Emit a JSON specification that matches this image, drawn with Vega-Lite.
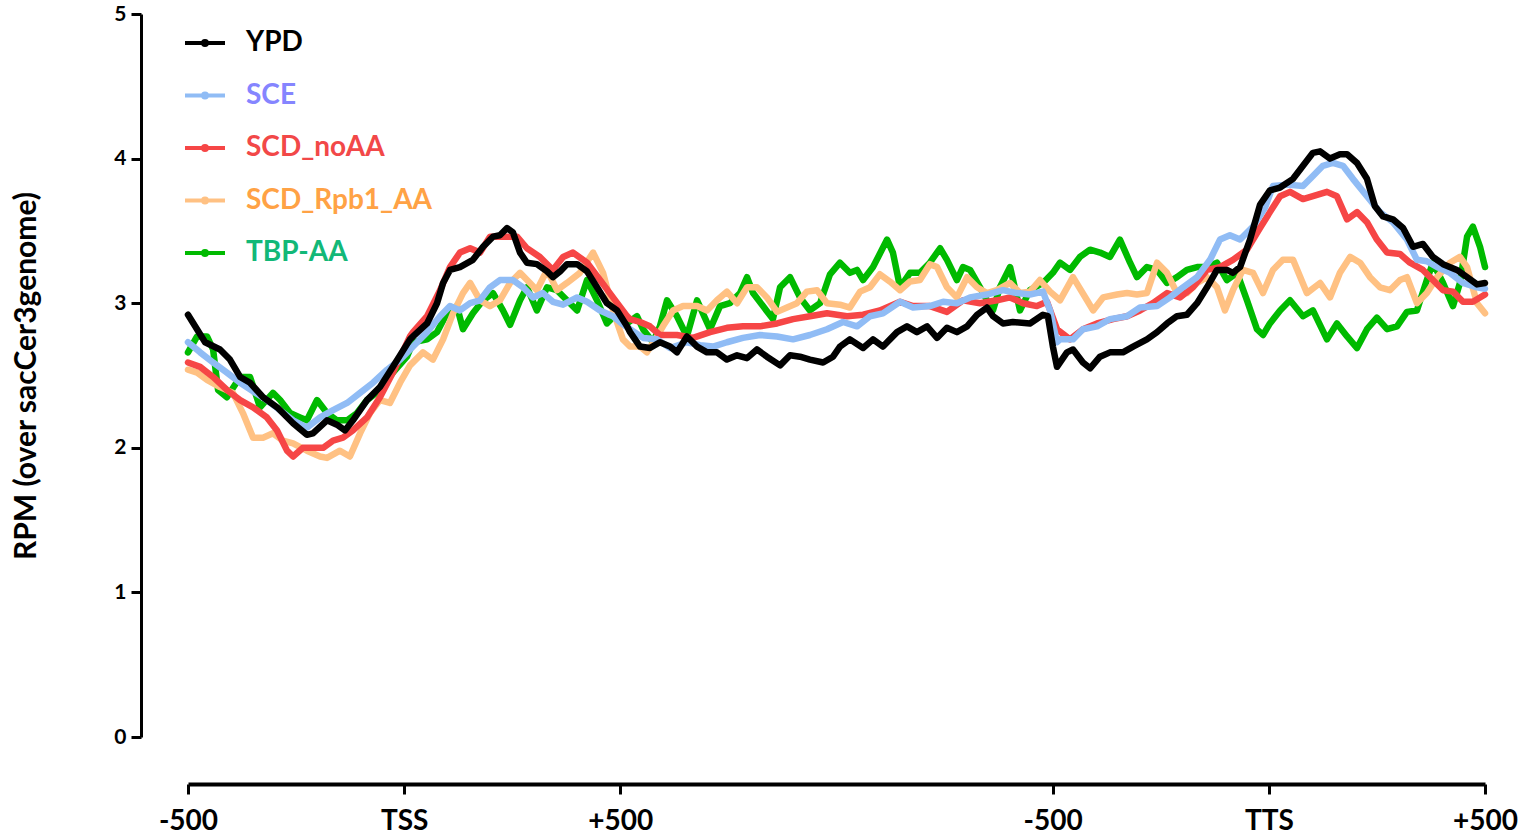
{
"$schema": "https://vega.github.io/schema/vega-lite/v6.json",
"width": 1297, "height": 723,
"autosize": {"type": "none"},
"padding": {"left": 188, "top": 14, "right": 39, "bottom": 100},
"background": "white",
"config": {"view": {"stroke": null}, "font": "Lato"},
"data": {"values": [
{"s":"YPD","x":0,"y":2.92},{"s":"YPD","x":0.079,"y":2.73},{"s":"YPD","x":0.148,"y":2.68},{"s":"YPD","x":0.194,"y":2.61},{"s":"YPD","x":0.241,"y":2.49},{"s":"YPD","x":0.287,"y":2.45},{"s":"YPD","x":0.347,"y":2.35},{"s":"YPD","x":0.412,"y":2.28},{"s":"YPD","x":0.486,"y":2.17},{"s":"YPD","x":0.55,"y":2.09},{"s":"YPD","x":0.578,"y":2.10},{"s":"YPD","x":0.643,"y":2.19},{"s":"YPD","x":0.689,"y":2.16},{"s":"YPD","x":0.726,"y":2.12},{"s":"YPD","x":0.763,"y":2.19},{"s":"YPD","x":0.828,"y":2.33},{"s":"YPD","x":0.888,"y":2.42},{"s":"YPD","x":0.948,"y":2.56},{"s":"YPD","x":1.027,"y":2.75},{"s":"YPD","x":1.041,"y":2.77},{"s":"YPD","x":1.106,"y":2.86},{"s":"YPD","x":1.152,"y":3.00},{"s":"YPD","x":1.18,"y":3.14},{"s":"YPD","x":1.212,"y":3.23},{"s":"YPD","x":1.258,"y":3.25},{"s":"YPD","x":1.318,"y":3.30},{"s":"YPD","x":1.365,"y":3.39},{"s":"YPD","x":1.411,"y":3.46},{"s":"YPD","x":1.443,"y":3.47},{"s":"YPD","x":1.476,"y":3.52},{"s":"YPD","x":1.503,"y":3.49},{"s":"YPD","x":1.536,"y":3.35},{"s":"YPD","x":1.568,"y":3.28},{"s":"YPD","x":1.614,"y":3.27},{"s":"YPD","x":1.661,"y":3.22},{"s":"YPD","x":1.688,"y":3.18},{"s":"YPD","x":1.721,"y":3.22},{"s":"YPD","x":1.753,"y":3.27},{"s":"YPD","x":1.8,"y":3.27},{"s":"YPD","x":1.846,"y":3.22},{"s":"YPD","x":1.892,"y":3.11},{"s":"YPD","x":1.938,"y":3.00},{"s":"YPD","x":1.985,"y":2.95},{"s":"YPD","x":2.031,"y":2.84},{"s":"YPD","x":2.045,"y":2.80},{"s":"YPD","x":2.091,"y":2.70},{"s":"YPD","x":2.137,"y":2.69},{"s":"YPD","x":2.183,"y":2.73},{"s":"YPD","x":2.23,"y":2.70},{"s":"YPD","x":2.262,"y":2.66},{"s":"YPD","x":2.308,"y":2.77},{"s":"YPD","x":2.355,"y":2.70},{"s":"YPD","x":2.401,"y":2.66},{"s":"YPD","x":2.447,"y":2.66},{"s":"YPD","x":2.493,"y":2.61},{"s":"YPD","x":2.54,"y":2.64},{"s":"YPD","x":2.586,"y":2.62},{"s":"YPD","x":2.632,"y":2.68},{"s":"YPD","x":2.678,"y":2.63},{"s":"YPD","x":2.739,"y":2.57},{"s":"YPD","x":2.785,"y":2.64},{"s":"YPD","x":2.831,"y":2.63},{"s":"YPD","x":2.877,"y":2.61},{"s":"YPD","x":2.938,"y":2.59},{"s":"YPD","x":2.984,"y":2.63},{"s":"YPD","x":3.016,"y":2.70},{"s":"YPD","x":3.062,"y":2.75},{"s":"YPD","x":3.123,"y":2.69},{"s":"YPD","x":3.169,"y":2.75},{"s":"YPD","x":3.215,"y":2.70},{"s":"YPD","x":3.28,"y":2.80},{"s":"YPD","x":3.326,"y":2.84},{"s":"YPD","x":3.372,"y":2.80},{"s":"YPD","x":3.419,"y":2.84},{"s":"YPD","x":3.465,"y":2.76},{"s":"YPD","x":3.511,"y":2.83},{"s":"YPD","x":3.557,"y":2.80},{"s":"YPD","x":3.604,"y":2.84},{"s":"YPD","x":3.65,"y":2.92},{"s":"YPD","x":3.696,"y":2.97},{"s":"YPD","x":3.724,"y":2.91},{"s":"YPD","x":3.77,"y":2.86},{"s":"YPD","x":3.816,"y":2.87},{"s":"YPD","x":3.895,"y":2.86},{"s":"YPD","x":3.955,"y":2.92},{"s":"YPD","x":3.978,"y":2.91},{"s":"YPD","x":4.001,"y":2.70},{"s":"YPD","x":4.02,"y":2.56},{"s":"YPD","x":4.066,"y":2.66},{"s":"YPD","x":4.094,"y":2.68},{"s":"YPD","x":4.14,"y":2.59},{"s":"YPD","x":4.173,"y":2.55},{"s":"YPD","x":4.219,"y":2.63},{"s":"YPD","x":4.265,"y":2.66},{"s":"YPD","x":4.325,"y":2.66},{"s":"YPD","x":4.372,"y":2.70},{"s":"YPD","x":4.436,"y":2.75},{"s":"YPD","x":4.483,"y":2.80},{"s":"YPD","x":4.529,"y":2.86},{"s":"YPD","x":4.575,"y":2.91},{"s":"YPD","x":4.621,"y":2.92},{"s":"YPD","x":4.668,"y":3.00},{"s":"YPD","x":4.714,"y":3.11},{"s":"YPD","x":4.76,"y":3.23},{"s":"YPD","x":4.806,"y":3.23},{"s":"YPD","x":4.834,"y":3.21},{"s":"YPD","x":4.867,"y":3.25},{"s":"YPD","x":4.913,"y":3.44},{"s":"YPD","x":4.959,"y":3.68},{"s":"YPD","x":5.005,"y":3.78},{"s":"YPD","x":5.052,"y":3.80},{"s":"YPD","x":5.112,"y":3.86},{"s":"YPD","x":5.158,"y":3.95},{"s":"YPD","x":5.204,"y":4.04},{"s":"YPD","x":5.237,"y":4.05},{"s":"YPD","x":5.283,"y":4.00},{"s":"YPD","x":5.329,"y":4.03},{"s":"YPD","x":5.362,"y":4.03},{"s":"YPD","x":5.408,"y":3.97},{"s":"YPD","x":5.454,"y":3.86},{"s":"YPD","x":5.491,"y":3.67},{"s":"YPD","x":5.528,"y":3.60},{"s":"YPD","x":5.574,"y":3.58},{"s":"YPD","x":5.621,"y":3.52},{"s":"YPD","x":5.667,"y":3.39},{"s":"YPD","x":5.713,"y":3.41},{"s":"YPD","x":5.759,"y":3.32},{"s":"YPD","x":5.806,"y":3.27},{"s":"YPD","x":5.87,"y":3.23},{"s":"YPD","x":5.917,"y":3.18},{"s":"YPD","x":5.963,"y":3.13},{"s":"YPD","x":6,"y":3.14},
{"s":"SCD_noAA","x":0,"y":2.59},{"s":"SCD_noAA","x":0.056,"y":2.56},{"s":"SCD_noAA","x":0.116,"y":2.49},{"s":"SCD_noAA","x":0.18,"y":2.40},{"s":"SCD_noAA","x":0.241,"y":2.33},{"s":"SCD_noAA","x":0.301,"y":2.28},{"s":"SCD_noAA","x":0.365,"y":2.21},{"s":"SCD_noAA","x":0.412,"y":2.12},{"s":"SCD_noAA","x":0.458,"y":1.98},{"s":"SCD_noAA","x":0.486,"y":1.94},{"s":"SCD_noAA","x":0.532,"y":2.00},{"s":"SCD_noAA","x":0.578,"y":2.00},{"s":"SCD_noAA","x":0.625,"y":2.00},{"s":"SCD_noAA","x":0.671,"y":2.05},{"s":"SCD_noAA","x":0.717,"y":2.07},{"s":"SCD_noAA","x":0.763,"y":2.12},{"s":"SCD_noAA","x":0.828,"y":2.21},{"s":"SCD_noAA","x":0.888,"y":2.35},{"s":"SCD_noAA","x":0.948,"y":2.52},{"s":"SCD_noAA","x":1.027,"y":2.77},{"s":"SCD_noAA","x":1.041,"y":2.80},{"s":"SCD_noAA","x":1.106,"y":2.91},{"s":"SCD_noAA","x":1.166,"y":3.09},{"s":"SCD_noAA","x":1.212,"y":3.25},{"s":"SCD_noAA","x":1.258,"y":3.35},{"s":"SCD_noAA","x":1.305,"y":3.38},{"s":"SCD_noAA","x":1.351,"y":3.35},{"s":"SCD_noAA","x":1.397,"y":3.46},{"s":"SCD_noAA","x":1.457,"y":3.46},{"s":"SCD_noAA","x":1.522,"y":3.46},{"s":"SCD_noAA","x":1.568,"y":3.38},{"s":"SCD_noAA","x":1.628,"y":3.32},{"s":"SCD_noAA","x":1.688,"y":3.23},{"s":"SCD_noAA","x":1.735,"y":3.32},{"s":"SCD_noAA","x":1.781,"y":3.35},{"s":"SCD_noAA","x":1.846,"y":3.28},{"s":"SCD_noAA","x":1.906,"y":3.16},{"s":"SCD_noAA","x":1.966,"y":3.04},{"s":"SCD_noAA","x":2.031,"y":2.91},{"s":"SCD_noAA","x":2.045,"y":2.89},{"s":"SCD_noAA","x":2.091,"y":2.87},{"s":"SCD_noAA","x":2.137,"y":2.84},{"s":"SCD_noAA","x":2.183,"y":2.78},{"s":"SCD_noAA","x":2.262,"y":2.78},{"s":"SCD_noAA","x":2.336,"y":2.76},{"s":"SCD_noAA","x":2.415,"y":2.80},{"s":"SCD_noAA","x":2.493,"y":2.83},{"s":"SCD_noAA","x":2.567,"y":2.84},{"s":"SCD_noAA","x":2.646,"y":2.84},{"s":"SCD_noAA","x":2.725,"y":2.86},{"s":"SCD_noAA","x":2.799,"y":2.89},{"s":"SCD_noAA","x":2.877,"y":2.91},{"s":"SCD_noAA","x":2.956,"y":2.93},{"s":"SCD_noAA","x":3.049,"y":2.91},{"s":"SCD_noAA","x":3.123,"y":2.92},{"s":"SCD_noAA","x":3.201,"y":2.95},{"s":"SCD_noAA","x":3.294,"y":3.01},{"s":"SCD_noAA","x":3.354,"y":2.98},{"s":"SCD_noAA","x":3.432,"y":2.98},{"s":"SCD_noAA","x":3.511,"y":2.94},{"s":"SCD_noAA","x":3.585,"y":3.02},{"s":"SCD_noAA","x":3.664,"y":3.00},{"s":"SCD_noAA","x":3.742,"y":3.02},{"s":"SCD_noAA","x":3.803,"y":3.04},{"s":"SCD_noAA","x":3.863,"y":3.00},{"s":"SCD_noAA","x":3.927,"y":2.98},{"s":"SCD_noAA","x":3.974,"y":3.01},{"s":"SCD_noAA","x":4.02,"y":2.82},{"s":"SCD_noAA","x":4.08,"y":2.75},{"s":"SCD_noAA","x":4.14,"y":2.82},{"s":"SCD_noAA","x":4.205,"y":2.86},{"s":"SCD_noAA","x":4.279,"y":2.89},{"s":"SCD_noAA","x":4.344,"y":2.91},{"s":"SCD_noAA","x":4.404,"y":2.95},{"s":"SCD_noAA","x":4.464,"y":3.00},{"s":"SCD_noAA","x":4.529,"y":3.07},{"s":"SCD_noAA","x":4.589,"y":3.04},{"s":"SCD_noAA","x":4.649,"y":3.11},{"s":"SCD_noAA","x":4.714,"y":3.23},{"s":"SCD_noAA","x":4.774,"y":3.25},{"s":"SCD_noAA","x":4.834,"y":3.30},{"s":"SCD_noAA","x":4.899,"y":3.37},{"s":"SCD_noAA","x":4.959,"y":3.52},{"s":"SCD_noAA","x":5.005,"y":3.63},{"s":"SCD_noAA","x":5.052,"y":3.74},{"s":"SCD_noAA","x":5.098,"y":3.77},{"s":"SCD_noAA","x":5.158,"y":3.72},{"s":"SCD_noAA","x":5.204,"y":3.74},{"s":"SCD_noAA","x":5.269,"y":3.77},{"s":"SCD_noAA","x":5.315,"y":3.74},{"s":"SCD_noAA","x":5.362,"y":3.58},{"s":"SCD_noAA","x":5.408,"y":3.63},{"s":"SCD_noAA","x":5.454,"y":3.56},{"s":"SCD_noAA","x":5.5,"y":3.44},{"s":"SCD_noAA","x":5.547,"y":3.35},{"s":"SCD_noAA","x":5.607,"y":3.34},{"s":"SCD_noAA","x":5.653,"y":3.28},{"s":"SCD_noAA","x":5.713,"y":3.23},{"s":"SCD_noAA","x":5.759,"y":3.16},{"s":"SCD_noAA","x":5.806,"y":3.09},{"s":"SCD_noAA","x":5.852,"y":3.08},{"s":"SCD_noAA","x":5.898,"y":3.01},{"s":"SCD_noAA","x":5.944,"y":3.01},{"s":"SCD_noAA","x":6,"y":3.06},
{"s":"SCE","x":0,"y":2.73},{"s":"SCE","x":0.056,"y":2.66},{"s":"SCE","x":0.116,"y":2.59},{"s":"SCE","x":0.18,"y":2.52},{"s":"SCE","x":0.241,"y":2.45},{"s":"SCE","x":0.301,"y":2.39},{"s":"SCE","x":0.365,"y":2.33},{"s":"SCE","x":0.426,"y":2.26},{"s":"SCE","x":0.486,"y":2.19},{"s":"SCE","x":0.55,"y":2.14},{"s":"SCE","x":0.611,"y":2.21},{"s":"SCE","x":0.671,"y":2.26},{"s":"SCE","x":0.736,"y":2.31},{"s":"SCE","x":0.796,"y":2.38},{"s":"SCE","x":0.856,"y":2.45},{"s":"SCE","x":0.921,"y":2.54},{"s":"SCE","x":0.981,"y":2.61},{"s":"SCE","x":1.041,"y":2.70},{"s":"SCE","x":1.106,"y":2.80},{"s":"SCE","x":1.166,"y":2.91},{"s":"SCE","x":1.212,"y":2.98},{"s":"SCE","x":1.258,"y":2.95},{"s":"SCE","x":1.305,"y":3.00},{"s":"SCE","x":1.351,"y":3.02},{"s":"SCE","x":1.397,"y":3.11},{"s":"SCE","x":1.443,"y":3.16},{"s":"SCE","x":1.503,"y":3.16},{"s":"SCE","x":1.55,"y":3.11},{"s":"SCE","x":1.596,"y":3.04},{"s":"SCE","x":1.642,"y":3.07},{"s":"SCE","x":1.688,"y":3.01},{"s":"SCE","x":1.735,"y":2.99},{"s":"SCE","x":1.8,"y":3.04},{"s":"SCE","x":1.846,"y":3.01},{"s":"SCE","x":1.906,"y":2.95},{"s":"SCE","x":1.966,"y":2.91},{"s":"SCE","x":1.998,"y":2.87},{"s":"SCE","x":2.045,"y":2.82},{"s":"SCE","x":2.105,"y":2.76},{"s":"SCE","x":2.17,"y":2.75},{"s":"SCE","x":2.23,"y":2.69},{"s":"SCE","x":2.308,"y":2.73},{"s":"SCE","x":2.369,"y":2.71},{"s":"SCE","x":2.429,"y":2.70},{"s":"SCE","x":2.493,"y":2.73},{"s":"SCE","x":2.567,"y":2.76},{"s":"SCE","x":2.646,"y":2.78},{"s":"SCE","x":2.725,"y":2.77},{"s":"SCE","x":2.799,"y":2.75},{"s":"SCE","x":2.877,"y":2.78},{"s":"SCE","x":2.956,"y":2.82},{"s":"SCE","x":3.03,"y":2.87},{"s":"SCE","x":3.095,"y":2.84},{"s":"SCE","x":3.155,"y":2.91},{"s":"SCE","x":3.215,"y":2.93},{"s":"SCE","x":3.294,"y":3.01},{"s":"SCE","x":3.354,"y":2.97},{"s":"SCE","x":3.432,"y":2.98},{"s":"SCE","x":3.493,"y":3.01},{"s":"SCE","x":3.557,"y":3.00},{"s":"SCE","x":3.618,"y":3.04},{"s":"SCE","x":3.696,"y":3.06},{"s":"SCE","x":3.77,"y":3.09},{"s":"SCE","x":3.835,"y":3.07},{"s":"SCE","x":3.895,"y":3.06},{"s":"SCE","x":3.955,"y":3.08},{"s":"SCE","x":3.988,"y":2.95},{"s":"SCE","x":4.02,"y":2.73},{"s":"SCE","x":4.034,"y":2.75},{"s":"SCE","x":4.094,"y":2.75},{"s":"SCE","x":4.14,"y":2.82},{"s":"SCE","x":4.205,"y":2.84},{"s":"SCE","x":4.265,"y":2.89},{"s":"SCE","x":4.344,"y":2.91},{"s":"SCE","x":4.404,"y":2.97},{"s":"SCE","x":4.483,"y":2.98},{"s":"SCE","x":4.543,"y":3.04},{"s":"SCE","x":4.603,"y":3.11},{"s":"SCE","x":4.668,"y":3.18},{"s":"SCE","x":4.728,"y":3.30},{"s":"SCE","x":4.774,"y":3.44},{"s":"SCE","x":4.82,"y":3.47},{"s":"SCE","x":4.867,"y":3.44},{"s":"SCE","x":4.927,"y":3.53},{"s":"SCE","x":4.982,"y":3.66},{"s":"SCE","x":5.019,"y":3.81},{"s":"SCE","x":5.084,"y":3.82},{"s":"SCE","x":5.158,"y":3.81},{"s":"SCE","x":5.204,"y":3.88},{"s":"SCE","x":5.25,"y":3.95},{"s":"SCE","x":5.296,"y":3.97},{"s":"SCE","x":5.343,"y":3.95},{"s":"SCE","x":5.389,"y":3.86},{"s":"SCE","x":5.454,"y":3.74},{"s":"SCE","x":5.514,"y":3.63},{"s":"SCE","x":5.574,"y":3.56},{"s":"SCE","x":5.639,"y":3.44},{"s":"SCE","x":5.685,"y":3.30},{"s":"SCE","x":5.731,"y":3.29},{"s":"SCE","x":5.778,"y":3.25},{"s":"SCE","x":5.838,"y":3.21},{"s":"SCE","x":5.898,"y":3.14},{"s":"SCE","x":5.963,"y":3.11},{"s":"SCE","x":6,"y":3.10},
{"s":"SCD_Rpb1_AA","x":0,"y":2.54},{"s":"SCD_Rpb1_AA","x":0.042,"y":2.52},{"s":"SCD_Rpb1_AA","x":0.088,"y":2.47},{"s":"SCD_Rpb1_AA","x":0.148,"y":2.42},{"s":"SCD_Rpb1_AA","x":0.208,"y":2.38},{"s":"SCD_Rpb1_AA","x":0.254,"y":2.24},{"s":"SCD_Rpb1_AA","x":0.301,"y":2.07},{"s":"SCD_Rpb1_AA","x":0.347,"y":2.07},{"s":"SCD_Rpb1_AA","x":0.393,"y":2.10},{"s":"SCD_Rpb1_AA","x":0.439,"y":2.05},{"s":"SCD_Rpb1_AA","x":0.486,"y":2.03},{"s":"SCD_Rpb1_AA","x":0.55,"y":1.98},{"s":"SCD_Rpb1_AA","x":0.611,"y":1.94},{"s":"SCD_Rpb1_AA","x":0.643,"y":1.93},{"s":"SCD_Rpb1_AA","x":0.703,"y":1.98},{"s":"SCD_Rpb1_AA","x":0.749,"y":1.94},{"s":"SCD_Rpb1_AA","x":0.796,"y":2.10},{"s":"SCD_Rpb1_AA","x":0.842,"y":2.24},{"s":"SCD_Rpb1_AA","x":0.888,"y":2.33},{"s":"SCD_Rpb1_AA","x":0.934,"y":2.31},{"s":"SCD_Rpb1_AA","x":0.981,"y":2.45},{"s":"SCD_Rpb1_AA","x":1.027,"y":2.57},{"s":"SCD_Rpb1_AA","x":1.087,"y":2.66},{"s":"SCD_Rpb1_AA","x":1.133,"y":2.61},{"s":"SCD_Rpb1_AA","x":1.18,"y":2.75},{"s":"SCD_Rpb1_AA","x":1.226,"y":2.93},{"s":"SCD_Rpb1_AA","x":1.272,"y":3.07},{"s":"SCD_Rpb1_AA","x":1.305,"y":3.14},{"s":"SCD_Rpb1_AA","x":1.351,"y":3.02},{"s":"SCD_Rpb1_AA","x":1.397,"y":2.98},{"s":"SCD_Rpb1_AA","x":1.443,"y":3.02},{"s":"SCD_Rpb1_AA","x":1.49,"y":3.14},{"s":"SCD_Rpb1_AA","x":1.536,"y":3.21},{"s":"SCD_Rpb1_AA","x":1.582,"y":3.14},{"s":"SCD_Rpb1_AA","x":1.614,"y":3.09},{"s":"SCD_Rpb1_AA","x":1.661,"y":3.23},{"s":"SCD_Rpb1_AA","x":1.707,"y":3.09},{"s":"SCD_Rpb1_AA","x":1.753,"y":3.14},{"s":"SCD_Rpb1_AA","x":1.813,"y":3.21},{"s":"SCD_Rpb1_AA","x":1.874,"y":3.35},{"s":"SCD_Rpb1_AA","x":1.92,"y":3.21},{"s":"SCD_Rpb1_AA","x":1.966,"y":2.95},{"s":"SCD_Rpb1_AA","x":2.012,"y":2.75},{"s":"SCD_Rpb1_AA","x":2.045,"y":2.70},{"s":"SCD_Rpb1_AA","x":2.091,"y":2.70},{"s":"SCD_Rpb1_AA","x":2.123,"y":2.66},{"s":"SCD_Rpb1_AA","x":2.17,"y":2.77},{"s":"SCD_Rpb1_AA","x":2.197,"y":2.84},{"s":"SCD_Rpb1_AA","x":2.244,"y":2.95},{"s":"SCD_Rpb1_AA","x":2.29,"y":2.98},{"s":"SCD_Rpb1_AA","x":2.355,"y":2.98},{"s":"SCD_Rpb1_AA","x":2.401,"y":2.95},{"s":"SCD_Rpb1_AA","x":2.447,"y":3.02},{"s":"SCD_Rpb1_AA","x":2.493,"y":3.08},{"s":"SCD_Rpb1_AA","x":2.54,"y":3.00},{"s":"SCD_Rpb1_AA","x":2.586,"y":3.11},{"s":"SCD_Rpb1_AA","x":2.632,"y":3.11},{"s":"SCD_Rpb1_AA","x":2.678,"y":3.04},{"s":"SCD_Rpb1_AA","x":2.725,"y":2.94},{"s":"SCD_Rpb1_AA","x":2.771,"y":2.97},{"s":"SCD_Rpb1_AA","x":2.817,"y":3.00},{"s":"SCD_Rpb1_AA","x":2.863,"y":3.08},{"s":"SCD_Rpb1_AA","x":2.91,"y":3.09},{"s":"SCD_Rpb1_AA","x":2.956,"y":3.00},{"s":"SCD_Rpb1_AA","x":3.016,"y":2.99},{"s":"SCD_Rpb1_AA","x":3.062,"y":2.97},{"s":"SCD_Rpb1_AA","x":3.109,"y":3.08},{"s":"SCD_Rpb1_AA","x":3.155,"y":3.11},{"s":"SCD_Rpb1_AA","x":3.201,"y":3.20},{"s":"SCD_Rpb1_AA","x":3.247,"y":3.15},{"s":"SCD_Rpb1_AA","x":3.294,"y":3.09},{"s":"SCD_Rpb1_AA","x":3.34,"y":3.15},{"s":"SCD_Rpb1_AA","x":3.386,"y":3.16},{"s":"SCD_Rpb1_AA","x":3.432,"y":3.27},{"s":"SCD_Rpb1_AA","x":3.465,"y":3.25},{"s":"SCD_Rpb1_AA","x":3.511,"y":3.11},{"s":"SCD_Rpb1_AA","x":3.557,"y":3.04},{"s":"SCD_Rpb1_AA","x":3.604,"y":3.18},{"s":"SCD_Rpb1_AA","x":3.65,"y":3.11},{"s":"SCD_Rpb1_AA","x":3.696,"y":3.07},{"s":"SCD_Rpb1_AA","x":3.742,"y":3.09},{"s":"SCD_Rpb1_AA","x":3.803,"y":3.14},{"s":"SCD_Rpb1_AA","x":3.849,"y":3.07},{"s":"SCD_Rpb1_AA","x":3.895,"y":3.08},{"s":"SCD_Rpb1_AA","x":3.941,"y":3.16},{"s":"SCD_Rpb1_AA","x":3.988,"y":3.08},{"s":"SCD_Rpb1_AA","x":4.034,"y":3.02},{"s":"SCD_Rpb1_AA","x":4.094,"y":3.18},{"s":"SCD_Rpb1_AA","x":4.159,"y":3.02},{"s":"SCD_Rpb1_AA","x":4.187,"y":2.95},{"s":"SCD_Rpb1_AA","x":4.233,"y":3.04},{"s":"SCD_Rpb1_AA","x":4.298,"y":3.06},{"s":"SCD_Rpb1_AA","x":4.344,"y":3.07},{"s":"SCD_Rpb1_AA","x":4.39,"y":3.06},{"s":"SCD_Rpb1_AA","x":4.436,"y":3.07},{"s":"SCD_Rpb1_AA","x":4.483,"y":3.28},{"s":"SCD_Rpb1_AA","x":4.529,"y":3.21},{"s":"SCD_Rpb1_AA","x":4.575,"y":3.07},{"s":"SCD_Rpb1_AA","x":4.621,"y":3.07},{"s":"SCD_Rpb1_AA","x":4.668,"y":3.14},{"s":"SCD_Rpb1_AA","x":4.714,"y":3.18},{"s":"SCD_Rpb1_AA","x":4.76,"y":3.11},{"s":"SCD_Rpb1_AA","x":4.797,"y":2.95},{"s":"SCD_Rpb1_AA","x":4.834,"y":3.09},{"s":"SCD_Rpb1_AA","x":4.88,"y":3.23},{"s":"SCD_Rpb1_AA","x":4.927,"y":3.21},{"s":"SCD_Rpb1_AA","x":4.973,"y":3.07},{"s":"SCD_Rpb1_AA","x":5.019,"y":3.23},{"s":"SCD_Rpb1_AA","x":5.065,"y":3.30},{"s":"SCD_Rpb1_AA","x":5.112,"y":3.30},{"s":"SCD_Rpb1_AA","x":5.176,"y":3.07},{"s":"SCD_Rpb1_AA","x":5.237,"y":3.14},{"s":"SCD_Rpb1_AA","x":5.283,"y":3.04},{"s":"SCD_Rpb1_AA","x":5.329,"y":3.21},{"s":"SCD_Rpb1_AA","x":5.376,"y":3.32},{"s":"SCD_Rpb1_AA","x":5.422,"y":3.28},{"s":"SCD_Rpb1_AA","x":5.468,"y":3.18},{"s":"SCD_Rpb1_AA","x":5.514,"y":3.11},{"s":"SCD_Rpb1_AA","x":5.56,"y":3.09},{"s":"SCD_Rpb1_AA","x":5.607,"y":3.16},{"s":"SCD_Rpb1_AA","x":5.639,"y":3.18},{"s":"SCD_Rpb1_AA","x":5.685,"y":3.00},{"s":"SCD_Rpb1_AA","x":5.731,"y":3.07},{"s":"SCD_Rpb1_AA","x":5.778,"y":3.18},{"s":"SCD_Rpb1_AA","x":5.838,"y":3.28},{"s":"SCD_Rpb1_AA","x":5.884,"y":3.32},{"s":"SCD_Rpb1_AA","x":5.917,"y":3.25},{"s":"SCD_Rpb1_AA","x":5.963,"y":3.00},{"s":"SCD_Rpb1_AA","x":6,"y":2.93},
{"s":"TBP-AA","x":0,"y":2.66},{"s":"TBP-AA","x":0.042,"y":2.77},{"s":"TBP-AA","x":0.088,"y":2.77},{"s":"TBP-AA","x":0.116,"y":2.68},{"s":"TBP-AA","x":0.139,"y":2.40},{"s":"TBP-AA","x":0.18,"y":2.35},{"s":"TBP-AA","x":0.241,"y":2.49},{"s":"TBP-AA","x":0.287,"y":2.49},{"s":"TBP-AA","x":0.333,"y":2.28},{"s":"TBP-AA","x":0.393,"y":2.38},{"s":"TBP-AA","x":0.426,"y":2.33},{"s":"TBP-AA","x":0.472,"y":2.24},{"s":"TBP-AA","x":0.518,"y":2.21},{"s":"TBP-AA","x":0.55,"y":2.19},{"s":"TBP-AA","x":0.597,"y":2.33},{"s":"TBP-AA","x":0.643,"y":2.24},{"s":"TBP-AA","x":0.689,"y":2.19},{"s":"TBP-AA","x":0.736,"y":2.19},{"s":"TBP-AA","x":0.782,"y":2.24},{"s":"TBP-AA","x":0.828,"y":2.33},{"s":"TBP-AA","x":0.888,"y":2.40},{"s":"TBP-AA","x":0.948,"y":2.52},{"s":"TBP-AA","x":1.013,"y":2.63},{"s":"TBP-AA","x":1.041,"y":2.73},{"s":"TBP-AA","x":1.106,"y":2.75},{"s":"TBP-AA","x":1.152,"y":2.80},{"s":"TBP-AA","x":1.198,"y":2.93},{"s":"TBP-AA","x":1.244,"y":2.98},{"s":"TBP-AA","x":1.272,"y":2.82},{"s":"TBP-AA","x":1.318,"y":2.93},{"s":"TBP-AA","x":1.365,"y":3.02},{"s":"TBP-AA","x":1.411,"y":3.07},{"s":"TBP-AA","x":1.457,"y":2.95},{"s":"TBP-AA","x":1.49,"y":2.85},{"s":"TBP-AA","x":1.536,"y":3.02},{"s":"TBP-AA","x":1.568,"y":3.11},{"s":"TBP-AA","x":1.614,"y":2.95},{"s":"TBP-AA","x":1.661,"y":3.11},{"s":"TBP-AA","x":1.707,"y":3.09},{"s":"TBP-AA","x":1.753,"y":3.02},{"s":"TBP-AA","x":1.8,"y":2.95},{"s":"TBP-AA","x":1.846,"y":3.16},{"s":"TBP-AA","x":1.892,"y":3.02},{"s":"TBP-AA","x":1.938,"y":2.86},{"s":"TBP-AA","x":1.985,"y":2.93},{"s":"TBP-AA","x":2.031,"y":2.86},{"s":"TBP-AA","x":2.077,"y":2.91},{"s":"TBP-AA","x":2.105,"y":2.82},{"s":"TBP-AA","x":2.151,"y":2.73},{"s":"TBP-AA","x":2.183,"y":2.84},{"s":"TBP-AA","x":2.216,"y":3.02},{"s":"TBP-AA","x":2.262,"y":2.91},{"s":"TBP-AA","x":2.308,"y":2.77},{"s":"TBP-AA","x":2.355,"y":3.02},{"s":"TBP-AA","x":2.382,"y":2.93},{"s":"TBP-AA","x":2.415,"y":2.82},{"s":"TBP-AA","x":2.461,"y":2.98},{"s":"TBP-AA","x":2.507,"y":3.00},{"s":"TBP-AA","x":2.554,"y":3.07},{"s":"TBP-AA","x":2.586,"y":3.18},{"s":"TBP-AA","x":2.614,"y":3.07},{"s":"TBP-AA","x":2.66,"y":2.98},{"s":"TBP-AA","x":2.706,"y":2.89},{"s":"TBP-AA","x":2.739,"y":3.11},{"s":"TBP-AA","x":2.785,"y":3.18},{"s":"TBP-AA","x":2.831,"y":3.04},{"s":"TBP-AA","x":2.877,"y":2.95},{"s":"TBP-AA","x":2.924,"y":3.00},{"s":"TBP-AA","x":2.97,"y":3.20},{"s":"TBP-AA","x":3.016,"y":3.28},{"s":"TBP-AA","x":3.062,"y":3.21},{"s":"TBP-AA","x":3.095,"y":3.23},{"s":"TBP-AA","x":3.123,"y":3.16},{"s":"TBP-AA","x":3.169,"y":3.25},{"s":"TBP-AA","x":3.234,"y":3.44},{"s":"TBP-AA","x":3.261,"y":3.35},{"s":"TBP-AA","x":3.294,"y":3.11},{"s":"TBP-AA","x":3.34,"y":3.21},{"s":"TBP-AA","x":3.386,"y":3.21},{"s":"TBP-AA","x":3.432,"y":3.28},{"s":"TBP-AA","x":3.479,"y":3.38},{"s":"TBP-AA","x":3.511,"y":3.30},{"s":"TBP-AA","x":3.557,"y":3.16},{"s":"TBP-AA","x":3.585,"y":3.25},{"s":"TBP-AA","x":3.618,"y":3.23},{"s":"TBP-AA","x":3.664,"y":3.11},{"s":"TBP-AA","x":3.696,"y":3.02},{"s":"TBP-AA","x":3.724,"y":2.95},{"s":"TBP-AA","x":3.756,"y":3.11},{"s":"TBP-AA","x":3.803,"y":3.25},{"s":"TBP-AA","x":3.849,"y":2.95},{"s":"TBP-AA","x":3.895,"y":3.09},{"s":"TBP-AA","x":3.955,"y":3.14},{"s":"TBP-AA","x":4.001,"y":3.21},{"s":"TBP-AA","x":4.034,"y":3.28},{"s":"TBP-AA","x":4.08,"y":3.23},{"s":"TBP-AA","x":4.126,"y":3.32},{"s":"TBP-AA","x":4.173,"y":3.37},{"s":"TBP-AA","x":4.219,"y":3.35},{"s":"TBP-AA","x":4.265,"y":3.32},{"s":"TBP-AA","x":4.311,"y":3.44},{"s":"TBP-AA","x":4.358,"y":3.28},{"s":"TBP-AA","x":4.39,"y":3.18},{"s":"TBP-AA","x":4.436,"y":3.25},{"s":"TBP-AA","x":4.483,"y":3.23},{"s":"TBP-AA","x":4.529,"y":3.14},{"s":"TBP-AA","x":4.575,"y":3.18},{"s":"TBP-AA","x":4.621,"y":3.23},{"s":"TBP-AA","x":4.668,"y":3.25},{"s":"TBP-AA","x":4.714,"y":3.25},{"s":"TBP-AA","x":4.76,"y":3.28},{"s":"TBP-AA","x":4.806,"y":3.16},{"s":"TBP-AA","x":4.853,"y":3.21},{"s":"TBP-AA","x":4.899,"y":3.02},{"s":"TBP-AA","x":4.945,"y":2.82},{"s":"TBP-AA","x":4.973,"y":2.78},{"s":"TBP-AA","x":5.005,"y":2.86},{"s":"TBP-AA","x":5.052,"y":2.95},{"s":"TBP-AA","x":5.098,"y":3.02},{"s":"TBP-AA","x":5.158,"y":2.91},{"s":"TBP-AA","x":5.204,"y":2.95},{"s":"TBP-AA","x":5.269,"y":2.75},{"s":"TBP-AA","x":5.315,"y":2.86},{"s":"TBP-AA","x":5.362,"y":2.77},{"s":"TBP-AA","x":5.408,"y":2.69},{"s":"TBP-AA","x":5.454,"y":2.82},{"s":"TBP-AA","x":5.5,"y":2.90},{"s":"TBP-AA","x":5.547,"y":2.82},{"s":"TBP-AA","x":5.593,"y":2.84},{"s":"TBP-AA","x":5.639,"y":2.94},{"s":"TBP-AA","x":5.685,"y":2.95},{"s":"TBP-AA","x":5.731,"y":3.16},{"s":"TBP-AA","x":5.759,"y":3.28},{"s":"TBP-AA","x":5.806,"y":3.14},{"s":"TBP-AA","x":5.852,"y":2.98},{"s":"TBP-AA","x":5.884,"y":3.14},{"s":"TBP-AA","x":5.917,"y":3.46},{"s":"TBP-AA","x":5.944,"y":3.53},{"s":"TBP-AA","x":5.977,"y":3.39},{"s":"TBP-AA","x":6,"y":3.25}
]},
"encoding": {
  "x": {"field": "x", "type": "quantitative", "scale": {"domain": [0, 6], "nice": false, "zero": false},
    "axis": {"values": [0, 1, 2, 4, 5, 6], "labelExpr": "datum.value == 0 || datum.value == 4 ? '-500' : datum.value == 1 ? 'TSS' : datum.value == 5 ? 'TTS' : '+500'", "title": null, "grid": false, "offset": 47, "domainWidth": 4, "domainColor": "black", "tickColor": "black", "tickWidth": 3, "tickSize": 10, "labelFont": "Lato", "labelFontWeight": "bold", "labelFontSize": 28, "labelColor": "black", "labelPadding": 13, "labelFlush": false, "labelOverlap": false}},
  "y": {"field": "y", "type": "quantitative", "scale": {"domain": [0, 5], "nice": false, "zero": true},
    "axis": {"values": [0, 1, 2, 3, 4, 5], "format": "d", "title": "RPM (over sacCer3genome)", "grid": false, "offset": 47, "domainWidth": 3, "domainColor": "black", "tickColor": "black", "tickWidth": 3, "tickSize": 10, "labelFont": "Lato", "labelFontWeight": "bold", "labelFontSize": 21, "labelColor": "black", "labelPadding": 5, "titleFont": "Lato", "titleFontWeight": "bold", "titleFontSize": 30, "titleColor": "black", "titleX": -100}},
  "color": {"field": "s", "type": "nominal",
    "scale": {"domain": ["YPD", "SCE", "SCD_noAA", "SCD_Rpb1_AA", "TBP-AA"], "range": ["#000000", "#90bcf5", "#f64646", "#ffc183", "#00ba00"]},
    "legend": {"title": null, "orient": "none", "legendX": -5, "legendY": 7, "padding": 0,
      "symbolType": "M-1,0L1,0M0.1,0A0.1,0.1,0,1,1,-0.1,0A0.1,0.1,0,1,1,0.1,0Z", "symbolSize": 1600, "symbolStrokeWidth": 4,
      "labelFont": "Lato", "labelFontWeight": "bold", "labelFontSize": 28, "labelOffset": 19, "labelLimit": 400, "rowPadding": 16.5,
      "labelColor": {"expr": "datum.value == 'YPD' ? '#000000' : datum.value == 'SCE' ? '#8585ff' : datum.value == 'SCD_noAA' ? '#f24848' : datum.value == 'SCD_Rpb1_AA' ? '#ffa245' : '#12b878'"}}}
},
"layer": [
  {"transform": [{"filter": "datum.s == 'TBP-AA'"}], "mark": {"type": "line", "strokeWidth": 6.5, "strokeJoin": "round", "strokeCap": "round"}},
  {"transform": [{"filter": "datum.s == 'SCD_Rpb1_AA'"}], "mark": {"type": "line", "strokeWidth": 6.5, "strokeJoin": "round", "strokeCap": "round"}},
  {"transform": [{"filter": "datum.s == 'SCD_noAA'"}], "mark": {"type": "line", "strokeWidth": 6.5, "strokeJoin": "round", "strokeCap": "round"}},
  {"transform": [{"filter": "datum.s == 'SCE'"}], "mark": {"type": "line", "strokeWidth": 6.5, "strokeJoin": "round", "strokeCap": "round"}},
  {"transform": [{"filter": "datum.s == 'YPD'"}], "mark": {"type": "line", "strokeWidth": 6.5, "strokeJoin": "round", "strokeCap": "round"}}
]
}
